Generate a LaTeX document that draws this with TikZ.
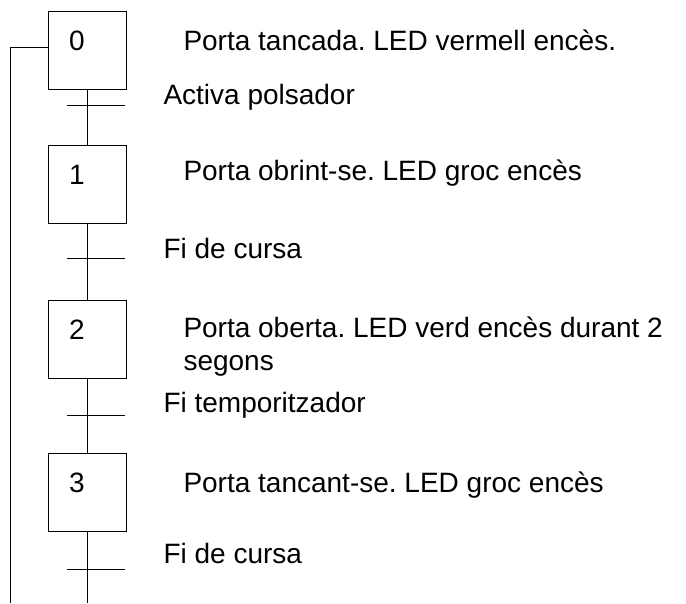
\documentclass[tikz,border=0pt]{standalone}
\usepackage{fontspec}
\setmainfont{Liberation Sans}
\frenchspacing
\usetikzlibrary{positioning,calc}
\tikzset{
stepbox/.style = {draw, fill=white, rectangle, minimum height=78pt, minimum width=78pt},
num/.style = {anchor=base, inner sep=0pt, font=\fontsize{28}{33}\selectfont},
action/.style = {anchor=base west, inner sep=0pt, align=left, font=\fontsize{28}{33}\selectfont},
cond/.style = {anchor=base west, inner sep=0pt, font=\fontsize{28}{33}\selectfont},
tmp/.style = {coordinate}
}
\begin{document}
\begin{tikzpicture}[auto, x=1pt, y=-1pt, line width=1pt]
    \useasboundingbox (0,0) rectangle (686,603);
    \node [stepbox] (e0) at (87,50) {};
    \node [stepbox] (e1) at (87,184) {};
    \node [stepbox] (e2) at (87,339.5) {};
    \node [stepbox] (e3) at (87,492.5) {};
    \node [num] (n0) at ([xshift=-10pt]e0.center) {0};
    \node [num] (n1) at ([xshift=-10pt]e1.center) {1};
    \node [num] (n2) at ([xshift=-10pt]e2.center) {2};
    \node [num] (n3) at ([xshift=-10pt]e3.center) {3};

    \node [action] (a0) at (183,50) {Porta tancada. LED vermell encès.};
    \node [action] (a1) at (183,180) {Porta obrint-se. LED groc encès};
    \node [action] (a2) at (183,370) {Porta oberta. LED verd encès durant 2\\segons};
    \node [action] (a3) at (183,492) {Porta tancant-se. LED groc encès};

    \node [tmp] (t0) at (87,105) {};
    \node [tmp] (t1) at (87,258) {};
    \node [tmp] (t2) at (87,415) {};
    \node [tmp] (t3) at (87,569) {};
    \node [cond] (c0) at (163,104) {Activa polsador};
    \node [cond] (c1) at (163,258) {Fi de cursa};
    \node [cond] (c2) at (163,412) {Fi temporitzador};
    \node [cond] (c3) at (163,563) {Fi de cursa};

    \node [tmp] (end) at (87,603) {};
    \node [tmp] (back) at (10,603) {};

    \draw (e0) -- (e1);
    \draw (e1) -- (e2);
    \draw (e2) -- (e3);
    \draw (e3) -- (end);
    \draw ([xshift=-20pt]t0) -- ([xshift=38pt]t0);
    \draw ([xshift=-20pt]t1) -- ([xshift=38pt]t1);
    \draw ([xshift=-20pt]t2) -- ([xshift=38pt]t2);
    \draw ([xshift=-20pt]t3) -- ([xshift=38pt]t3);
    \draw ([yshift=3pt]e0.west) -| (back);
\end{tikzpicture}
\end{document}
